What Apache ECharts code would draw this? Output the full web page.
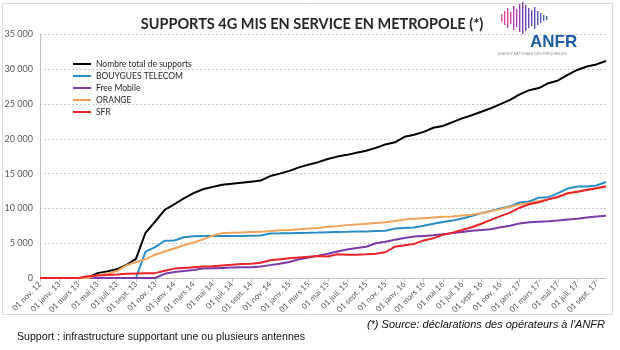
<!DOCTYPE html>
<html>
<head>
<meta charset="utf-8">
<script src="https://cdn.jsdelivr.net/npm/echarts@6/dist/echarts.min.js"></script>
<style>
  html, body { margin: 0; padding: 0; background: #ffffff; }
  #chart { width: 620px; height: 350px; }
</style>
</head>
<body>
<div id="chart"></div>
<script>
// ---------- DATA ----------
var months = [
  "01 nov. 12","01 déc. 12",
  "01 janv. 13","01 févr. 13","01 mars 13","01 avr. 13","01 mai 13","01 juin 13","01 juil. 13","01 août 13","01 sept. 13","01 oct. 13","01 nov. 13","01 déc. 13",
  "01 janv. 14","01 févr. 14","01 mars 14","01 avr. 14","01 mai 14","01 juin 14","01 juil. 14","01 août 14","01 sept. 14","01 oct. 14","01 nov. 14","01 déc. 14",
  "01 janv. 15","01 févr. 15","01 mars 15","01 avr. 15","01 mai 15","01 juin 15","01 juil. 15","01 août 15","01 sept. 15","01 oct. 15","01 nov. 15","01 déc. 15",
  "01 janv. 16","01 févr. 16","01 mars 16","01 avr. 16","01 mai 16","01 juin 16","01 juil. 16","01 août 16","01 sept. 16","01 oct. 16","01 nov. 16","01 déc. 16",
  "01 janv. 17","01 févr. 17","01 mars 17","01 avr. 17","01 mai 17","01 juin 17","01 juil. 17","01 août 17","01 sept. 17","01 oct. 17"
];

var totalSupports = [
  0, 0, 0, 0, 0, 50, 700, 950, 1250, 1870, 2750, 6500, 8100, 9800,
  10600, 11450, 12200, 12750, 13100, 13400, 13550, 13700, 13850, 14000, 14650, 15000,
  15400, 15900, 16300, 16650, 17100, 17450, 17700, 18000, 18300, 18700, 19200, 19500,
  20300, 20600, 21000, 21600, 21850, 22400, 22950, 23400, 23900, 24400, 25000, 25600,
  26400, 27000, 27300, 28000, 28400, 29200, 29900, 30400, 30700, 31200
];

var bouygues = [
  0, 0, 0, 0, 0, 0, 0, 0, 0, 0, 0, 3800, 4450, 5350,
  5400, 5850, 6000, 6050, 6050, 6050, 6050, 6050, 6080, 6100, 6400, 6420,
  6450, 6480, 6500, 6530, 6570, 6600, 6630, 6670, 6700, 6750, 6800, 7100,
  7200, 7250, 7500, 7800, 8050, 8250, 8550, 8900, 9300, 9650, 10000, 10300,
  10850, 11000, 11550, 11600, 12200, 12850, 13150, 13150, 13300, 13800
];

var free = [
  0, 0, 0, 0, 0, 0, 0, 0, 0, 0, 0, 0, 0, 600,
  850, 1000, 1150, 1350, 1400, 1450, 1500, 1550, 1550, 1650, 1850, 2050,
  2300, 2700, 2950, 3200, 3500, 3800, 4100, 4300, 4500, 5000, 5200, 5500,
  5750, 5950, 6050, 6150, 6300, 6450, 6600, 6800, 6900, 7000, 7300, 7500,
  7850, 8000, 8100, 8150, 8250, 8400, 8500, 8700, 8850, 8950
];

var orange = [
  0, 0, 0, 0, 0, 0, 430, 600, 1000, 1800, 2300, 2700, 3350, 3800,
  4250, 4700, 5100, 5550, 6100, 6450, 6500, 6550, 6600, 6650, 6750, 6850,
  6900, 7000, 7100, 7200, 7350, 7450, 7600, 7700, 7800, 7900, 8000, 8200,
  8400, 8500, 8600, 8700, 8800, 8850, 9000, 9100, 9300, 9600, 9900, 10250,
  10550, 10800, 11050, 11300, 11700, 12100, 12400, 12700, 12900, 13200
];

var sfr = [
  0, 0, 0, 0, 0, 250, 350, 420, 500, 600, 650, 700, 700, 1050,
  1350, 1450, 1550, 1650, 1700, 1800, 1900, 2000, 2050, 2200, 2550, 2700,
  2850, 2950, 3050, 3150, 3100, 3400, 3350, 3350, 3400, 3500, 3700, 4500,
  4700, 4900, 5400, 5700, 6200, 6500, 6900, 7300, 7800, 8350, 8900, 9400,
  10100, 10600, 10900, 11300, 11650, 12200, 12400, 12650, 12900, 13150
];

var seriesNames = ["Nombre total de supports", "BOUYGUES TELECOM", "Free Mobile", "ORANGE", "SFR"];
var seriesColors = ["#000000", "#2a8dc5", "#7a3aa8", "#f0a35a", "#e8232a"];
var seriesValues = [totalSupports, bouygues, free, orange, sfr];

var chartTitle = "SUPPORTS 4G MIS EN SERVICE EN METROPOLE (*)";
var footNote = "Support : infrastructure supportant une ou plusieurs antennes";
var sourceNote = "(*) Source: déclarations des opérateurs à l'ANFR";

// ---------- LOGO (decorative) ----------
var logoBars = [
  [501, 14, 8], [504, 11, 14], [507, 8, 20], [510, 12, 12], [513, 6, 24],
  [516, 9, 18], [519, 4, 28], [522, 2, 32], [525, 5, 26], [528, 8, 20],
  [531, 10, 16], [534, 7, 22], [537, 11, 14], [540, 13, 10], [543, 15, 6], [546, 16, 4]
];
var logoColors = ["#e0509e","#dc4ca0","#d448a2","#c945a5","#bb42a8","#ab40ab","#9a3fae",
                  "#8a3fb0","#7b40b2","#6e43b4","#6347b5","#5a4cb6","#5352b6","#4e58b6","#4a5eb5","#4763b4"];

var graphics = [];
graphics.push({
  type: 'rect', shape: { x: 2.5, y: 3.5, width: 610, height: 311 },
  style: { fill: 'none', stroke: '#d9d9d9', lineWidth: 1 }, z: -1
});
logoBars.forEach(function (b, k) {
  graphics.push({
    type: 'rect', shape: { x: b[0], y: b[1], width: 1.4, height: b[2] },
    style: { fill: logoColors[k] }
  });
});
graphics.push({
  type: 'text', left: 530, top: 34,
  style: { text: 'ANFR', fill: '#1d5fa6', font: 'bold 17px "Liberation Sans", Arial' }
});
graphics.push({
  type: 'text', left: 498, top: 52,
  style: { text: 'AGENCE NATIONALE DES FRÉQUENCES', fill: '#9a8aa8', font: '3.5px "Liberation Sans", Arial' }
});
graphics.push({
  type: 'text', left: 17, top: 332,
  style: { text: footNote, fill: '#111111', font: '10.6px "Liberation Sans", Arial' }
});
graphics.push({
  type: 'text', right: 15, top: 319.5,
  style: { text: sourceNote, fill: '#111111', font: 'italic 11px "Liberation Sans", Arial' }
});

// ---------- CHART ----------
var chart = echarts.init(document.getElementById('chart'), null, { renderer: 'canvas' });

var series = seriesNames.map(function (name, k) {
  return {
    name: name,
    type: 'line',
    data: seriesValues[k],
    showSymbol: false,
    symbol: 'none',
    lineStyle: { width: 2, color: seriesColors[k] },
    itemStyle: { color: seriesColors[k] },
    animation: false
  };
});

chart.setOption({
  animation: false,
  title: {
    text: chartTitle,
    left: 307, top: 12, textAlign: 'center',
    textStyle: { fontFamily: 'Lato', fontWeight: 'bold', fontSize: 14.5, color: '#262626' }
  },
  legend: {
    data: seriesNames,
    orient: 'vertical',
    left: 68, top: 53.5,
    itemWidth: 18, itemHeight: 2, itemGap: 1,
    icon: 'rect',
    textStyle: { fontFamily: 'Lato', fontSize: 8.5, color: '#262626', lineHeight: 11 }
  },
  grid: { left: 40, right: 14, top: 34.5, bottom: 72, containLabel: false },
  xAxis: {
    type: 'category',
    data: months,
    boundaryGap: false,
    axisLine: { lineStyle: { color: '#bfbfbf' } },
    axisTick: { show: true, interval: 1, length: 4, lineStyle: { color: '#bfbfbf' } },
    axisLabel: { interval: 1, rotate: 45, fontSize: 8, color: '#595959', fontFamily: 'Lato', margin: 5 },
    splitLine: { show: false }
  },
  yAxis: {
    type: 'value',
    min: 0, max: 35000, interval: 5000,
    axisLine: { show: true, lineStyle: { color: '#bfbfbf' } },
    axisTick: { show: false },
    axisLabel: {
      fontSize: 9, color: '#595959', fontFamily: 'Lato', margin: 7,
      formatter: function (v) { return String(v).replace(/\B(?=(\d{3})+(?!\d))/g, ' '); }
    },
    splitLine: { lineStyle: { color: '#c8c8c8', type: [2, 2], width: 1 } }
  },
  graphic: graphics,
  series: series
});
</script>
</body>
</html>
